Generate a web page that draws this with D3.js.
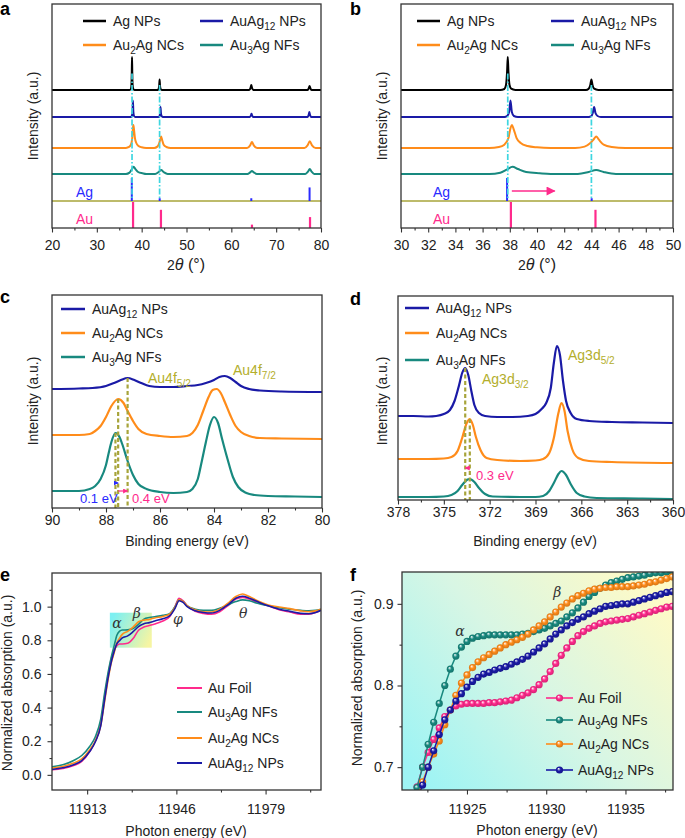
<!DOCTYPE html>
<html>
<head>
<meta charset="utf-8">
<script src="https://cdn.jsdelivr.net/npm/d3@7"></script>
<style>
  body { margin: 0; background: #fff; }
  svg { display: block; }
</style>
</head>
<body>
<svg id="fig" width="685" height="838"></svg>
<script>
// ---------- data ----------
// XRD, [2theta, intensity above own baseline]
var xrdAgNPs = [[20,0],[37.3,0],[37.6,3],[37.72,15],[37.8,55],[37.85,100],[37.9,55],[37.98,15],[38.1,4],[38.4,0],
  [43.6,0],[43.8,4],[43.92,15],[44.0,32],[44.08,15],[44.2,4],[44.5,0],
  [64.0,0],[64.3,7],[64.45,15],[64.6,7],[64.9,0],[77.0,0],[77.3,6],[77.45,12],[77.6,6],[77.9,0],[80,0]];
var xrdAuAg12 = [[20,0],[37.6,0],[37.8,3],[37.95,15],[38.05,50],[38.15,15],[38.3,3],[38.6,0],
  [43.8,0],[44.0,3],[44.1,12],[44.2,30],[44.3,12],[44.45,3],[44.7,0],
  [64.1,0],[64.4,6],[64.5,10],[64.6,6],[64.9,0],[77.0,0],[77.3,9],[77.4,15],[77.5,9],[77.8,0],[80,0]];
var xrdAu2Ag = [[20,0],[36.5,0],[37.2,3],[37.6,10],[37.9,30],[38.05,60],[38.15,70],[38.3,55],[38.5,30],[38.8,15],[39.3,6],[40.0,2],[41,0],
  [42.8,0],[43.5,4],[43.9,14],[44.2,28],[44.35,35],[44.55,25],[44.9,10],[45.5,3],[46.5,0],
  [63.5,0],[64.2,8],[64.6,18],[65.0,8],[65.8,0],[76.3,0],[77.0,8],[77.5,20],[78.0,8],[78.8,0],[80,0]];
var xrdAu3Ag = [[20,0],[36.5,0],[37.3,4],[37.8,14],[38.2,22],[38.6,15],[39.2,6],[40.2,2],[41,0],
  [43.0,0],[43.8,6],[44.35,12],[44.9,6],[45.8,0],
  [63.6,0],[64.2,5],[64.6,9],[65.0,5],[65.7,0],[76.5,0],[77.1,7],[77.5,15],[77.9,7],[78.5,0],[80,0]];
// reference patterns, [2theta, relative intensity]
var refAg = [[37.8,100],[44.02,12],[64.45,12],[77.45,59]];
var refAu = [[38.08,100],[44.3,70],[64.6,13],[77.55,42]];
var agGuides = [[37.85,50],[44.0,15]];
var shiftArrow = [38.15, 41.3];

// XPS Au 4f, [binding energy, intensity]
var au4fAuAg12 = [[90,3],[89,3.5],[88.5,4],[88.0,6],[87.7,9],[87.45,12],[87.2,14],[86.95,12],[86.7,9],[86.4,6],[86,5],[85.5,5],[85,6],
  [84.6,7],[84.3,9],[84.0,12],[83.8,15],[83.6,16],[83.4,14],[83.2,10],[83.0,6],[82.7,3],[82.3,1.5],[81.5,0.5],[80,0]];
var au4fAu2Ag = [[90,4],[89,4],[88.6,5],[88.4,8],[88.2,13],[88.0,22],[87.8,33],[87.55,40],[87.35,36],[87.2,28],[87.0,18],[86.8,10],[86.5,5],[86.0,3],
  [85.5,2],[85,3],[84.8,6],[84.6,14],[84.4,28],[84.2,42],[84.05,49],[83.9,50],[83.75,46],[83.6,37],[83.4,24],[83.2,13],[83.0,7],[82.7,3],[82.3,1],[81.5,0.5],[80,0]];
var au4fAu3Ag = [[90,6],[89,6],[88.6,8],[88.4,11],[88.2,18],[88.0,32],[87.9,44],[87.8,55],[87.65,64],[87.5,60],[87.4,53],[87.2,36],[87.0,22],[86.8,13],[86.5,8],
  [86,5],[85.5,4],[85,5],[84.8,8],[84.6,18],[84.45,36],[84.3,55],[84.15,72],[84.0,80],[83.85,74],[83.7,58],[83.5,38],[83.3,20],[83.1,10],[82.8,4],[82.5,2],[82,1],[81,0.5],[80,0]];
var au4fPeaks = [87.65, 87.55, 87.2];

// XPS Ag 3d
var ag3dAuAg12 = [[378,7],[377,7],[376,6.5],[375.5,7],[375,9],[374.6,13],[374.3,22],[374.0,38],[373.8,50],[373.6,55],[373.4,48],[373.2,32],[373.0,18],[372.7,10],[372.3,7],
  [371.5,6],[370.5,6],[369.5,7],[369,9],[368.6,14],[368.3,20],[368.0,35],[367.8,60],[367.6,77],[367.4,68],[367.2,42],[367.0,22],[366.7,10],[366.3,4],[365.5,2],[364,1],[362,0.5],[360,0]];
var ag3dAu2Ag = [[378,4],[376,4],[375,4.5],[374.5,6],[374.1,12],[373.8,25],[373.5,40],[373.3,44],[373.1,38],[372.9,26],[372.6,13],[372.2,5],[371.5,3],[370,2],
  [369,2.5],[368.5,4],[368.1,10],[367.8,25],[367.5,50],[367.3,60],[367.1,52],[366.9,32],[366.6,14],[366.2,5],[365.5,2],[364,1],[360,0]];
var ag3dAu3Ag = [[378,2],[376,2],[375,2.5],[374.5,4],[374.1,8],[373.8,14],[373.5,19],[373.3,20],[373.0,17],[372.7,11],[372.3,5],[371.8,2.5],[370,2],
  [369,2],[368.5,3],[368.1,8],[367.8,16],[367.5,25],[367.3,28],[367.0,24],[366.7,15],[366.3,6],[365.8,2.5],[365,1],[362,0.5],[360,0]];
var ag3dPeaks = [373.6, 373.3];

// XANES full range
var xanesE = [11900,11904,11908,11911,11914,11916,11918,11919.5,11921,11922,11923,11924,11925,11926,11928,11930,11932,11934,11936,11938,
  11941,11943.5,11945.5,11947,11948.5,11950,11953,11956,11959,11962,11965,11968,11970.5,11973,11976,11980,11984,11988,11992,11995,11997.5,11999.5];
var xanesAuFoil = [0.030,0.038,0.055,0.080,0.140,0.200,0.300,0.470,0.615,0.695,0.742,0.768,0.778,0.778,0.782,0.810,0.860,0.879,0.888,0.897,
  0.915,0.940,1.000,1.050,1.035,1.005,0.972,0.960,0.955,0.970,1.005,1.045,1.055,1.045,1.025,1.005,0.982,0.968,0.955,0.955,0.965,0.980];
var xanesAu3Ag = [0.048,0.060,0.085,0.115,0.170,0.225,0.330,0.490,0.630,0.705,0.768,0.830,0.854,0.861,0.862,0.870,0.895,0.926,0.935,0.940,
  0.948,0.958,1.000,1.040,1.030,1.005,0.985,0.978,0.978,0.990,1.010,1.030,1.040,1.035,1.020,1.005,0.993,0.985,0.978,0.975,0.978,0.985];
var xanesAu2Ag = [0.040,0.050,0.070,0.095,0.150,0.200,0.290,0.440,0.590,0.670,0.725,0.785,0.813,0.835,0.853,0.878,0.910,0.920,0.924,0.933,
  0.942,0.955,0.995,1.040,1.030,1.005,0.980,0.970,0.968,0.985,1.020,1.060,1.075,1.060,1.035,1.010,0.998,0.988,0.975,0.970,0.975,0.985];
var xanesAuAg12 = [0.032,0.042,0.060,0.085,0.140,0.195,0.290,0.450,0.600,0.677,0.735,0.780,0.798,0.814,0.826,0.851,0.881,0.898,0.905,0.915,
  0.928,0.945,0.990,1.035,1.025,1.000,0.975,0.965,0.962,0.978,1.010,1.050,1.062,1.050,1.030,1.005,0.985,0.972,0.960,0.958,0.965,0.978];
var zoomBox = [11921.4, 11936.9, 0.756, 0.964];
var greekE = [["α",11924.0,0.90],["β",11931.4,0.96],["φ",11946.6,0.927],["θ",11970.7,0.962]];

// XANES zoom (edge region)
var edgeE = [11921.50,11921.85,11922.20,11922.55,11922.90,11923.25,11923.60,11923.95,11924.30,11924.65,11925.00,11925.35,11925.70,11926.05,11926.40,11926.75,
  11927.10,11927.45,11927.80,11928.15,11928.50,11928.85,11929.20,11929.55,11929.90,11930.25,11930.60,11930.95,11931.30,11931.65,11932.00,11932.35,
  11932.70,11933.05,11933.40,11933.75,11934.10,11934.45,11934.80,11935.15,11935.50,11935.85,11936.20,11936.55,11936.90,11937.25,11937.60,11937.95];
var edgeAuFoil = [0.660,0.676,0.700,0.718,0.734,0.748,0.762,0.770,0.775,0.777,0.778,0.778,0.778,0.778,0.779,0.779,
  0.780,0.781,0.782,0.785,0.788,0.791,0.795,0.801,0.808,0.817,0.827,0.837,0.846,0.854,0.861,0.866,
  0.870,0.873,0.876,0.878,0.879,0.880,0.881,0.882,0.884,0.886,0.888,0.890,0.892,0.894,0.896,0.897];
var edgeAu3Ag = [0.655,0.675,0.700,0.728,0.755,0.778,0.800,0.820,0.836,0.847,0.854,0.858,0.860,0.861,0.862,0.862,
  0.862,0.862,0.862,0.862,0.863,0.864,0.866,0.868,0.870,0.873,0.876,0.879,0.884,0.889,0.895,0.902,
  0.909,0.914,0.919,0.923,0.926,0.928,0.930,0.932,0.933,0.934,0.935,0.937,0.938,0.938,0.939,0.940];
var edgeAu2Ag = [0.640,0.660,0.682,0.700,0.716,0.732,0.752,0.770,0.788,0.803,0.813,0.822,0.829,0.834,0.838,0.842,
  0.846,0.850,0.853,0.856,0.859,0.863,0.868,0.873,0.878,0.884,0.890,0.896,0.901,0.906,0.910,0.913,
  0.916,0.918,0.919,0.920,0.920,0.921,0.921,0.921,0.922,0.923,0.924,0.926,0.927,0.929,0.931,0.933];
var edgeAuAg12 = [0.635,0.660,0.678,0.700,0.720,0.740,0.758,0.770,0.781,0.790,0.798,0.805,0.810,0.814,0.816,0.819,
  0.821,0.823,0.826,0.829,0.832,0.836,0.841,0.846,0.851,0.857,0.863,0.868,0.873,0.877,0.881,0.884,
  0.888,0.891,0.894,0.897,0.898,0.899,0.900,0.900,0.902,0.904,0.906,0.908,0.910,0.912,0.914,0.915];
var greekF = [["α",11924.56,0.867],["β",11930.7,0.914]];

// ---------- drawing ----------
var FONT = '"Liberation Sans", Arial, sans-serif';
var C = { black: "#000", blue: "#1a1aa6", orange: "#ff8c1a", teal: "#18897f", pink: "#ff2a8c",
          olive: "#a7a43a", oliveText: "#b3ae2c", cyan: "#3ed6e0", agBlue: "#2a2aff", txt: "#222" };

var svg = d3.select("#fig");
var defs = svg.append("defs");

function panel(id, box, xDom, yDom) {
  var g = svg.append("g");
  var x = d3.scaleLinear().domain(xDom).range([box.l, box.r]);
  var y = d3.scaleLinear().domain(yDom).range([box.b, box.t]);
  defs.append("clipPath").attr("id", "clip-" + id).append("rect")
    .attr("x", box.l).attr("y", box.t).attr("width", box.r - box.l).attr("height", box.b - box.t);
  var bg = g.append("g");
  var plot = g.append("g").attr("clip-path", "url(#clip-" + id + ")");
  return { g: g, bg: bg, plot: plot, x: x, y: y, box: box };
}

function frame(p) {
  p.g.append("rect").attr("x", p.box.l).attr("y", p.box.t)
    .attr("width", p.box.r - p.box.l).attr("height", p.box.b - p.box.t)
    .attr("fill", "none").attr("stroke", "#333").attr("stroke-width", 1.3);
}

function styleAxis(s) {
  s.select(".domain").remove();
  s.attr("font-size", 14).attr("font-family", FONT);
  s.selectAll("line").attr("stroke", "#333").attr("stroke-width", 1.1);
  s.selectAll("text").attr("fill", C.txt);
}

function xAxis(p, majors, minors, fmt, pad) {
  p.g.append("g").attr("transform", "translate(0," + p.box.b + ")")
    .call(d3.axisBottom(p.x).tickValues(minors).tickSize(2.5).tickFormat("")).call(styleAxis);
  p.g.append("g").attr("transform", "translate(0," + p.box.b + ")")
    .call(d3.axisBottom(p.x).tickValues(majors).tickSize(4.5).tickPadding(pad).tickFormat(fmt)).call(styleAxis);
}

function yAxis(p, majors, minors, fmt, pad) {
  p.g.append("g").attr("transform", "translate(" + p.box.l + ",0)")
    .call(d3.axisLeft(p.y).tickValues(minors).tickSize(2.5).tickFormat("")).call(styleAxis);
  p.g.append("g").attr("transform", "translate(" + p.box.l + ",0)")
    .call(d3.axisLeft(p.y).tickValues(majors).tickSize(4.5).tickPadding(pad).tickFormat(fmt)).call(styleAxis);
}

// text with _{sub} parts
function rich(t, str, fs) {
  var parts = str.split(/_\{([^}]*)\}/);
  var shifted = false;
  parts.forEach(function(s, i) {
    var sub = i % 2 === 1;
    if (!s) return;
    var ts = t.append("tspan").text(s).attr("font-size", sub ? fs * 0.72 : fs);
    if (sub && !shifted) { ts.attr("dy", fs * 0.3); shifted = true; }
    else if (!sub && shifted) { ts.attr("dy", -fs * 0.3); shifted = false; }
  });
  return t;
}

function label(parent, x, y, str, opt) {
  opt = opt || {};
  var fs = opt.size || 14;
  var t = parent.append("text").attr("x", x).attr("y", y)
    .attr("font-family", opt.family || FONT).attr("fill", opt.color || C.txt)
    .attr("text-anchor", opt.anchor || "start");
  if (opt.weight) t.attr("font-weight", opt.weight);
  if (opt.style) t.attr("font-style", opt.style);
  if (opt.rotate) t.attr("transform", "rotate(-90," + x + "," + y + ")");
  return rich(t, str, fs);
}

function panelLetter(x, y, s) { label(svg, x, y, s, { size: 18, weight: "bold", color: "#000" }); }

function arrowHead(id, color) {
  defs.append("marker").attr("id", id).attr("viewBox", "0 0 10 10").attr("refX", 9).attr("refY", 5)
    .attr("markerWidth", 5).attr("markerHeight", 5).attr("markerUnits", "userSpaceOnUse").attr("orient", "auto")
    .append("path").attr("d", "M0,0L10,5L0,10z").attr("fill", color);
}
arrowHead("ah-pink", C.pink);
arrowHead("ah-blue", C.agBlue);
arrowHead("ah-pink-big", C.pink);
defs.select("#ah-pink-big").attr("markerWidth", 11).attr("markerHeight", 9);

// ---------- XRD panels (a, b) ----------
var xrdSeries = [
  { name: "Ag NPs", color: C.black, pts: xrdAgNPs, off: 419 },
  { name: "AuAg_{12} NPs", color: C.blue, pts: xrdAuAg12, off: 337 },
  { name: "Au_{2}Ag NCs", color: C.orange, pts: xrdAu2Ag, off: 243 },
  { name: "Au_{3}Ag NFs", color: C.teal, pts: xrdAu3Ag, off: 164 }
];

function drawXRD(p, legendX) {
  var yAg = d3.scaleLinear().domain([0, 100]).range([201, 178]);
  var yAu = d3.scaleLinear().domain([0, 100]).range([228, 202]);
  xrdSeries.forEach(function(s) {
    var line = d3.line().x(function(d) { return p.x(d[0]); })
      .y(function(d) { return p.y(d[1] + s.off); }).curve(d3.curveMonotoneX);
    p.plot.append("path").datum(s.pts).attr("d", line).attr("fill", "none")
      .attr("stroke", s.color).attr("stroke-width", 2).attr("stroke-linejoin", "round");
  });
  p.plot.append("line").attr("x1", p.box.l).attr("x2", p.box.r).attr("y1", 201).attr("y2", 201)
    .attr("stroke", C.olive).attr("stroke-width", 1.6);
  p.plot.selectAll(".ag").data(refAg).enter().append("line")
    .attr("x1", function(d) { return p.x(d[0]); }).attr("x2", function(d) { return p.x(d[0]); })
    .attr("y1", yAg(0)).attr("y2", function(d) { return yAg(d[1]); })
    .attr("stroke", C.agBlue).attr("stroke-width", 2);
  p.plot.selectAll(".au").data(refAu).enter().append("line")
    .attr("x1", function(d) { return p.x(d[0]); }).attr("x2", function(d) { return p.x(d[0]); })
    .attr("y1", yAu(0)).attr("y2", function(d) { return yAu(d[1]); })
    .attr("stroke", C.pink).attr("stroke-width", 2.2);
  p.plot.selectAll(".guide").data(agGuides).enter().append("line")
    .attr("x1", function(d) { return p.x(d[0]); }).attr("x2", function(d) { return p.x(d[0]); })
    .attr("y1", function(d) { return p.y(d[1] + xrdSeries[0].off); }).attr("y2", 200)
    .attr("stroke", C.cyan).attr("stroke-width", 1.7).attr("stroke-dasharray", "6,2,1.5,2");
  label(p.g, legendX, 197, "Ag", { color: C.agBlue, size: 14 });
  label(p.g, legendX, 224, "Au", { color: C.pink, size: 14 });
}

function xrdLegend(p, cols) {
  var rows = [21, 45];
  xrdSeries.forEach(function(s, i) {
    var c = cols[i % 2], ry = rows[Math.floor(i / 2)];
    p.g.append("line").attr("x1", c).attr("x2", c + 23).attr("y1", ry).attr("y2", ry)
      .attr("stroke", s.color).attr("stroke-width", 2.5);
    label(p.g, c + 30, ry + 5, s.name, { size: 14 });
  });
}

var pa = panel("a", { l: 52, r: 321, t: 4, b: 228 }, [20, 80], [0, 680]);
drawXRD(pa, 76);
frame(pa);
xAxis(pa, d3.range(20, 81, 10), d3.range(25, 80, 10), d3.format("d"), 8);
xrdLegend(pa, [83, 200]);
label(pa.g, 38, 116, "Intensity (a.u.)", { rotate: true, anchor: "middle" });
var ta = label(pa.g, 186, 270, "2", { anchor: "middle" });
ta.append("tspan").attr("font-style", "italic").text("θ");
ta.append("tspan").text(" (°)");
panelLetter(0, 15, "a");

var pb = panel("b", { l: 401, r: 673, t: 4, b: 228 }, [30, 50], [0, 680]);
drawXRD(pb, 433);
pb.plot.append("line").attr("x1", pb.x(shiftArrow[0])).attr("x2", pb.x(shiftArrow[1]))
  .attr("y1", 191).attr("y2", 191).attr("stroke", C.pink).attr("stroke-width", 1.6)
  .attr("marker-end", "url(#ah-pink-big)");
frame(pb);
xAxis(pb, d3.range(30, 51, 2), d3.range(31, 50, 2), d3.format("d"), 8);
xrdLegend(pb, [417, 551]);
label(pb.g, 387, 116, "Intensity (a.u.)", { rotate: true, anchor: "middle" });
var tb = label(pb.g, 537, 270, "2", { anchor: "middle" });
tb.append("tspan").attr("font-style", "italic").text("θ");
tb.append("tspan").text(" (°)");
panelLetter(350, 15, "b");

// ---------- XPS panels (c, d) ----------
function drawXPS(p, series, legendX, rows) {
  series.forEach(function(s) {
    var line = d3.line().x(function(d) { return p.x(d[0]); })
      .y(function(d) { return p.y(d[1] + s.off); }).curve(d3.curveMonotoneX);
    p.plot.append("path").datum(s.pts).attr("d", line).attr("fill", "none")
      .attr("stroke", s.color).attr("stroke-width", 2.2).attr("stroke-linejoin", "round");
  });
  series.forEach(function(s, i) {
    p.g.append("line").attr("x1", legendX).attr("x2", legendX + 24).attr("y1", rows[i]).attr("y2", rows[i])
      .attr("stroke", s.color).attr("stroke-width", 2.5);
    label(p.g, legendX + 31, rows[i] + 5, s.name, { size: 14 });
  });
}

function peakTop(s, e) {
  var d = s.pts.find(function(q) { return q[0] === e; });
  return d[1] + s.off;
}

function dashedMark(p, s, e) {
  p.plot.append("line").attr("x1", p.x(e)).attr("x2", p.x(e))
    .attr("y1", p.y(peakTop(s, e))).attr("y2", p.box.b)
    .attr("stroke", C.olive).attr("stroke-width", 2.2).attr("stroke-dasharray", "4,2.5");
}

var xpsC = [
  { name: "AuAg_{12} NPs", color: C.blue, pts: au4fAuAg12, off: 116 },
  { name: "Au_{2}Ag NCs", color: C.orange, pts: au4fAu2Ag, off: 69 },
  { name: "Au_{3}Ag NFs", color: C.teal, pts: au4fAu3Ag, off: 11 }
];
var pc = panel("c", { l: 52, r: 322, t: 295, b: 508 }, [90, 80], [0, 213]);
drawXPS(pc, xpsC, 61, [309, 333, 357]);
dashedMark(pc, xpsC[2], au4fPeaks[0]);
dashedMark(pc, xpsC[1], au4fPeaks[1]);
dashedMark(pc, xpsC[0], au4fPeaks[2]);
pc.g.append("line").attr("x1", pc.x(au4fPeaks[0])).attr("x2", pc.x(au4fPeaks[1]))
  .attr("y1", 483).attr("y2", 483).attr("stroke", C.agBlue).attr("stroke-width", 1.2).attr("marker-end", "url(#ah-blue)");
pc.g.append("line").attr("x1", pc.x(au4fPeaks[1])).attr("x2", pc.x(au4fPeaks[2]))
  .attr("y1", 491).attr("y2", 491).attr("stroke", C.pink).attr("stroke-width", 1.2).attr("marker-end", "url(#ah-pink)");
label(pc.g, 80, 503, "0.1 eV", { color: C.agBlue, size: 13 });
label(pc.g, 132, 503, "0.4 eV", { color: C.pink, size: 13 });
label(pc.g, 148, 383, "Au4f_{5/2}", { color: C.oliveText, size: 14 });
label(pc.g, 233, 375, "Au4f_{7/2}", { color: C.oliveText, size: 14 });
frame(pc);
xAxis(pc, d3.range(90, 79, -2), d3.range(89, 80, -2), d3.format("d"), 3);
label(pc.g, 38, 401, "Intensity (a.u.)", { rotate: true, anchor: "middle" });
label(pc.g, 187, 546, "Binding energy (eV)", { anchor: "middle" });
panelLetter(0, 303, "c");

var xpsD = [
  { name: "AuAg_{12} NPs", color: C.blue, pts: ag3dAuAg12, off: 77 },
  { name: "Au_{2}Ag NCs", color: C.orange, pts: ag3dAu2Ag, off: 37 },
  { name: "Au_{3}Ag NFs", color: C.teal, pts: ag3dAu3Ag, off: 1 }
];
var pd = panel("d", { l: 398, r: 673, t: 296, b: 500 }, [378, 360], [0, 204]);
drawXPS(pd, xpsD, 405, [308, 333, 360]);
dashedMark(pd, xpsD[0], ag3dPeaks[0]);
dashedMark(pd, xpsD[1], ag3dPeaks[1]);
pd.g.append("line").attr("x1", pd.x(ag3dPeaks[1])).attr("x2", pd.x(ag3dPeaks[0]))
  .attr("y1", 468).attr("y2", 468).attr("stroke", C.pink).attr("stroke-width", 1.2).attr("marker-end", "url(#ah-pink)");
label(pd.g, 476, 480, "0.3 eV", { color: C.pink, size: 13 });
label(pd.g, 568, 360, "Ag3d_{5/2}", { color: C.oliveText, size: 14 });
label(pd.g, 482, 384, "Ag3d_{3/2}", { color: C.oliveText, size: 14 });
frame(pd);
xAxis(pd, d3.range(378, 359, -3), d3.range(376.5, 360, -3), d3.format("d"), 3);
label(pd.g, 387, 401, "Intensity (a.u.)", { rotate: true, anchor: "middle" });
label(pd.g, 535, 546, "Binding energy (eV)", { anchor: "middle" });
panelLetter(350, 305, "d");

// ---------- XANES panels (e, f) ----------
var xanesSeries = [
  { name: "Au Foil", color: C.pink, full: xanesAuFoil, edge: edgeAuFoil },
  { name: "Au_{3}Ag NFs", color: C.teal, full: xanesAu3Ag, edge: edgeAu3Ag },
  { name: "Au_{2}Ag NCs", color: C.orange, full: xanesAu2Ag, edge: edgeAu2Ag },
  { name: "AuAg_{12} NPs", color: C.blue, full: xanesAuAg12, edge: edgeAuAg12 }
];

// gradients
var hg = defs.append("linearGradient").attr("id", "hl").attr("x1", 0).attr("y1", 0.3).attr("x2", 1).attr("y2", 0.7);
hg.append("stop").attr("offset", "0%").attr("stop-color", "#7df0f2");
hg.append("stop").attr("offset", "100%").attr("stop-color", "#f6f5a2");
var fg = defs.append("linearGradient").attr("id", "fbg").attr("x1", 0).attr("y1", 0.85).attr("x2", 1).attr("y2", 0.15);
fg.append("stop").attr("offset", "0%").attr("stop-color", "#9ef4f4");
fg.append("stop").attr("offset", "50%").attr("stop-color", "#d8f6e4");
fg.append("stop").attr("offset", "100%").attr("stop-color", "#fffac6");
xanesSeries.forEach(function(s, i) {
  var rg = defs.append("radialGradient").attr("id", "ball" + i)
    .attr("cx", "50%").attr("cy", "50%").attr("r", "50%").attr("fx", "35%").attr("fy", "30%");
  rg.append("stop").attr("offset", "0%").attr("stop-color", "#fff");
  rg.append("stop").attr("offset", "50%").attr("stop-color", s.color);
  rg.append("stop").attr("offset", "100%").attr("stop-color", d3.color(s.color).darker(0.5).formatHex());
});

var greekStyle = { family: '"DejaVu Serif", "Liberation Serif", serif', style: "italic", size: 14, anchor: "middle", color: "#333" };

var pe = panel("e", { l: 52, r: 321, t: 573, b: 790 }, [11900, 11999.5], [-0.09, 1.2]);
pe.bg.append("rect").attr("x", pe.x(zoomBox[0])).attr("y", pe.y(zoomBox[3]))
  .attr("width", pe.x(zoomBox[1]) - pe.x(zoomBox[0])).attr("height", pe.y(zoomBox[2]) - pe.y(zoomBox[3]))
  .attr("fill", "url(#hl)");
xanesSeries.forEach(function(s) {
  var line = d3.line().x(function(d, i) { return pe.x(xanesE[i]); })
    .y(function(d) { return pe.y(d); }).curve(d3.curveMonotoneX);
  pe.plot.append("path").datum(s.full).attr("d", line).attr("fill", "none")
    .attr("stroke", s.color).attr("stroke-width", 1.6);
});
greekE.forEach(function(d) { label(pe.g, pe.x(d[1]), pe.y(d[2]) + 5, d[0], greekStyle); });
[688, 712, 738, 763].forEach(function(ry, i) {
  var s = xanesSeries[i];
  pe.g.append("line").attr("x1", 177).attr("x2", 202).attr("y1", ry).attr("y2", ry)
    .attr("stroke", s.color).attr("stroke-width", 2);
  label(pe.g, 208, ry + 5, s.name, { size: 14 });
});
frame(pe);
xAxis(pe, [11913, 11946, 11979], [11929.5, 11962.5, 11995.5], d3.format("d"), 10);
yAxis(pe, [0, 0.2, 0.4, 0.6, 0.8, 1.0], [0.1, 0.3, 0.5, 0.7, 0.9, 1.1], d3.format(".1f"), 6);
label(pe.g, 12, 683, "Normalized absorption (a.u.)", { rotate: true, anchor: "middle" });
label(pe.g, 186, 836, "Photon energy (eV)", { anchor: "middle" });
panelLetter(0, 581, "e");

var pf = panel("f", { l: 402, r: 673, t: 572, b: 790 }, [11920.9, 11938], [0.672, 0.939]);
pf.bg.append("rect").attr("x", pf.box.l).attr("y", pf.box.t)
  .attr("width", pf.box.r - pf.box.l).attr("height", pf.box.b - pf.box.t).attr("fill", "url(#fbg)");
xanesSeries.forEach(function(s, k) {
  var line = d3.line().x(function(d, i) { return pf.x(edgeE[i]); }).y(function(d) { return pf.y(d); });
  pf.plot.append("path").datum(s.edge).attr("d", line).attr("fill", "none")
    .attr("stroke", s.color).attr("stroke-width", 1.5);
  pf.plot.selectAll(".m" + k).data(s.edge).enter().append("circle")
    .attr("cx", function(d, i) { return pf.x(edgeE[i]); }).attr("cy", function(d) { return pf.y(d); })
    .attr("r", 3.6).attr("fill", "url(#ball" + k + ")");
});
greekF.forEach(function(d) { label(pf.g, pf.x(d[1]), pf.y(d[2]) + 5, d[0], greekStyle); });
[698, 720, 744, 770].forEach(function(ry, i) {
  var s = xanesSeries[i];
  pf.g.append("line").attr("x1", 546).attr("x2", 573).attr("y1", ry).attr("y2", ry)
    .attr("stroke", s.color).attr("stroke-width", 1.6);
  pf.g.append("circle").attr("cx", 559.5).attr("cy", ry).attr("r", 3.6).attr("fill", "url(#ball" + i + ")");
  label(pf.g, 578, ry + 5, s.name, { size: 14 });
});
frame(pf);
xAxis(pf, [11925, 11930, 11935], [11922.5, 11927.5, 11932.5, 11937.5], d3.format("d"), 10);
yAxis(pf, [0.7, 0.8, 0.9], [0.75, 0.85], d3.format(".1f"), 4);
label(pf.g, 362, 678, "Normalized absorption (a.u.)", { rotate: true, anchor: "middle" });
label(pf.g, 537, 835, "Photon energy (eV)", { anchor: "middle" });
panelLetter(350, 581, "f");
</script>
</body>
</html>
